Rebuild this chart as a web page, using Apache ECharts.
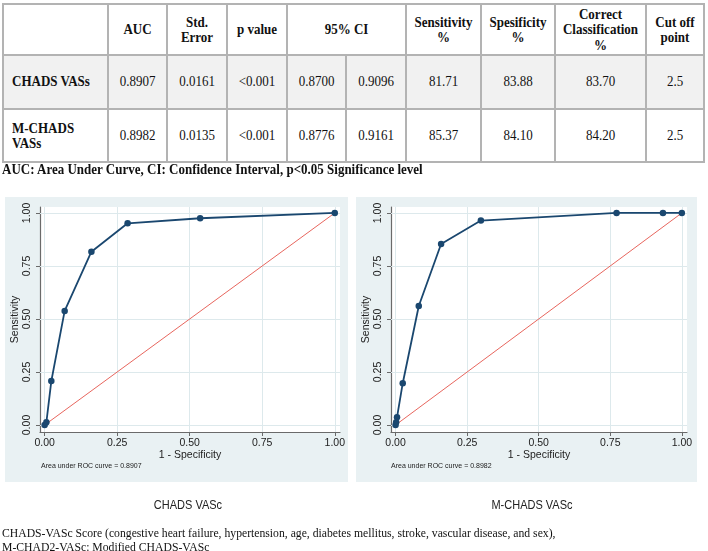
<!DOCTYPE html>
<html><head><meta charset="utf-8">
<script src="https://cdn.jsdelivr.net/npm/echarts@6/dist/echarts.min.js"></script>
<style>
html,body{margin:0;padding:0;background:#fff;width:708px;height:551px;overflow:hidden;position:relative}
#chart{position:absolute;left:0;top:0;width:708px;height:551px;z-index:2}
.panel{position:absolute;background:#e9f1f3;z-index:1}
.cell{position:absolute;box-sizing:border-box;border:2px solid #b3b3b3;display:flex;align-items:center;justify-content:center;text-align:center;font-family:'Liberation Serif','Times New Roman',serif;font-size:13px;line-height:14px;color:#111;z-index:3}
.cell span{display:inline-block;transform:scaleY(1.12)}
.hdr{font-weight:bold}
.name{justify-content:flex-start;text-align:left;padding-left:8px;padding-right:10px;font-weight:bold}
.txt{position:absolute;z-index:3;white-space:nowrap;color:#111}
</style></head>
<body>
<div class="panel" style="left:5px;top:197px;width:343px;height:285px"></div>
<div class="panel" style="left:356px;top:197px;width:341px;height:285px"></div>
<div id="chart"></div>
<div id="table"></div>
<script>
// ---------- data ----------
const tickValues = [0, 0.25, 0.5, 0.75, 1];
const chadsFpr = [0, 0.006, 0.023, 0.069, 0.1612, 0.286, 0.536, 1];
const chadsTpr = [0, 0.013, 0.207, 0.538, 0.8171, 0.951, 0.975, 1];
const mchadsFpr = [0, 0.002, 0.005, 0.025, 0.081, 0.159, 0.298, 0.772, 0.934, 1];
const mchadsTpr = [0, 0.013, 0.036, 0.197, 0.561, 0.8537, 0.964, 1, 1, 1];
const refFpr = [0, 1];
const refTpr = [0, 1];

const headerLabels = ['', 'AUC', 'Std.<br>Error', 'p value', '95% CI', 'Sensitivity<br>%', 'Spesificity<br>%', 'Correct<br>Classification<br>%', 'Cut off<br>point'];
const modelNames = ['CHADS VASs', 'M-CHADS VASs'];
const aucValues = ['0.8907', '0.8982'];
const stdErrors = ['0.0161', '0.0135'];
const pValues = ['<0.001', '<0.001'];
const ciLower = ['0.8700', '0.8776'];
const ciUpper = ['0.9096', '0.9161'];
const sensitivity = ['81.71', '85.37'];
const specificity = ['83.88', '84.10'];
const correctClass = ['83.70', '84.20'];
const cutOff = ['2.5', '2.5'];
const chartCaptions = ['CHADS VASc', 'M-CHADS VASc'];
const footnote = 'AUC: Area Under Curve, CI: Confidence Interval, p<0.05 Significance level';
const noteLines = ['CHADS-VASc Score (congestive heart failure, hypertension, age, diabetes mellitus, stroke, vascular disease, and sex),', 'M-CHAD2-VASc: Modified CHADS-VASc'];

// ---------- table (HTML) ----------
const colX = [2, 107, 166, 226, 286, 345, 405, 480, 554, 645, 703];
const rowY = [3, 54, 108, 161];
const tbl = document.getElementById('table');
function esc(s){return s.replace(/&/g,'&amp;').replace(/</g,'&lt;').replace(/>/g,'&gt;');}
function cell(c0, c1, r, html, cls, bg){
  const d = document.createElement('div');
  d.className = 'cell ' + (cls || '');
  d.style.left = colX[c0] + 'px';
  d.style.top = rowY[r] + 'px';
  d.style.width = (colX[c1] - colX[c0] + 2) + 'px';
  d.style.height = (rowY[r+1] - rowY[r] + 2) + 'px';
  if (bg) d.style.background = bg;
  d.innerHTML = '<span>' + html + '</span>';
  tbl.appendChild(d);
}
const hdrSpans = [[0,1],[1,2],[2,3],[3,4],[4,6],[6,7],[7,8],[8,9],[9,10]];
hdrSpans.forEach((s, i) => cell(s[0], s[1], 0, headerLabels[i], 'hdr', '#fff'));
const rowBg = ['#f1f1f1', '#fff'];
modelNames.forEach((n, r) => {
  const vals = [aucValues[r], stdErrors[r], pValues[r], ciLower[r], ciUpper[r], sensitivity[r], specificity[r], correctClass[r], cutOff[r]];
  cell(0, 1, r + 1, esc(n), 'name', rowBg[r]);
  vals.forEach((v, j) => cell(j + 1, j + 2, r + 1, esc(v), '', rowBg[r]));
});
function addText(txt, left, top, style){
  const d = document.createElement('div');
  d.className = 'txt';
  d.textContent = txt;
  d.style.left = left + 'px'; d.style.top = top + 'px';
  Object.assign(d.style, style || {});
  document.body.appendChild(d);
  return d;
}
addText(footnote, 2, 161, {font:"bold 13px 'Liberation Serif', serif", lineHeight:'15px', transform:'scaleY(1.1)', transformOrigin:'left top'});
const capCenters = [188, 532];
chartCaptions.forEach((c, i) => {
  addText(c, capCenters[i], 498, {font:"11px 'Liberation Sans', Arial, sans-serif", lineHeight:'14px', transform:'translateX(-50%) scaleY(1.1)', color:'#222'});
});
noteLines.forEach((t, i) => addText(t, 2, 526 + i * 14, {font:"11.7px 'Liberation Serif', serif", lineHeight:'14px', transform:'scaleY(1.1)', transformOrigin:'left top'}));

// ---------- charts ----------
const FONT = "'Liberation Sans', Arial, sans-serif";
const AXIS_COLOR = '#6a6a6a';
const TEXT_COLOR = '#222';
function xAx(i){
  return {type:'value', gridIndex:i, min:-0.016, max:1.018,
    name:'1 - Specificity', nameLocation:'middle', nameGap:15,
    nameTextStyle:{fontFamily:FONT, fontSize:10.5, color:TEXT_COLOR},
    axisLine:{show:true, onZero:false, lineStyle:{color:AXIS_COLOR, width:1.2}},
    axisTick:{show:true, length:4, customValues:tickValues, lineStyle:{color:AXIS_COLOR}},
    axisLabel:{customValues:tickValues, formatter:v => v.toFixed(2), margin:6, fontSize:10.5, color:TEXT_COLOR, fontFamily:FONT},
    splitLine:{show:false}};
}
function yAx(i){
  return {type:'value', gridIndex:i, min:-0.033, max:1.028,
    name:'Sensitivity', nameLocation:'middle', nameGap:17,
    nameTextStyle:{fontFamily:FONT, fontSize:10.5, color:TEXT_COLOR},
    axisLine:{show:true, onZero:false, lineStyle:{color:AXIS_COLOR, width:1.2}},
    axisTick:{show:true, length:4, customValues:tickValues, lineStyle:{color:AXIS_COLOR}},
    axisLabel:{customValues:tickValues, formatter:v => v.toFixed(2), rotate:90, margin:7, fontSize:10.5, color:TEXT_COLOR, fontFamily:FONT},
    splitLine:{show:false}};
}
const zip = (a, b) => a.map((v, k) => [v, b[k]]);
function rocSeries(i, fx, ty){
  return {type:'line', xAxisIndex:i, yAxisIndex:i, data:zip(fx, ty), z:3,
    symbol:'circle', symbolSize:6.5, showAllSymbol:true,
    lineStyle:{color:'#1a476f', width:1.8}, itemStyle:{color:'#1a476f'}};
}
function refSeries(i){
  const gridData = tickValues.map(v => ({xAxis:v})).concat(tickValues.map(v => ({yAxis:v})));
  return {type:'line', xAxisIndex:i, yAxisIndex:i, data:zip(refFpr, refTpr), z:2,
    symbol:'none', lineStyle:{color:'#e8665e', width:1},
    markLine:{silent:true, z:1, symbol:['none','none'], label:{show:false}, animation:false,
      lineStyle:{color:'#dde9ec', width:1, type:'solid'}, emphasis:{disabled:true}, data:gridData}};
}
const chart = echarts.init(document.getElementById('chart'), null, {renderer:'canvas'});
chart.setOption({
  animation:false,
  backgroundColor:'transparent',
  grid:[
    {left:40, top:207, width:300, height:225, show:true, backgroundColor:'#fff', borderWidth:0},
    {left:391, top:207, width:296, height:225, show:true, backgroundColor:'#fff', borderWidth:0}
  ],
  xAxis:[xAx(0), xAx(1)],
  yAxis:[yAx(0), yAx(1)],
  series:[refSeries(0), rocSeries(0, chadsFpr, chadsTpr), refSeries(1), rocSeries(1, mchadsFpr, mchadsTpr)],
  graphic:[
    {type:'text', left:41, top:463, style:{text:'Area under ROC curve = ' + aucValues[0], font:'7px ' + FONT, fill:TEXT_COLOR}},
    {type:'text', left:391, top:463, style:{text:'Area under ROC curve = ' + aucValues[1], font:'7px ' + FONT, fill:TEXT_COLOR}}
  ]
});
</script>
</body></html>
